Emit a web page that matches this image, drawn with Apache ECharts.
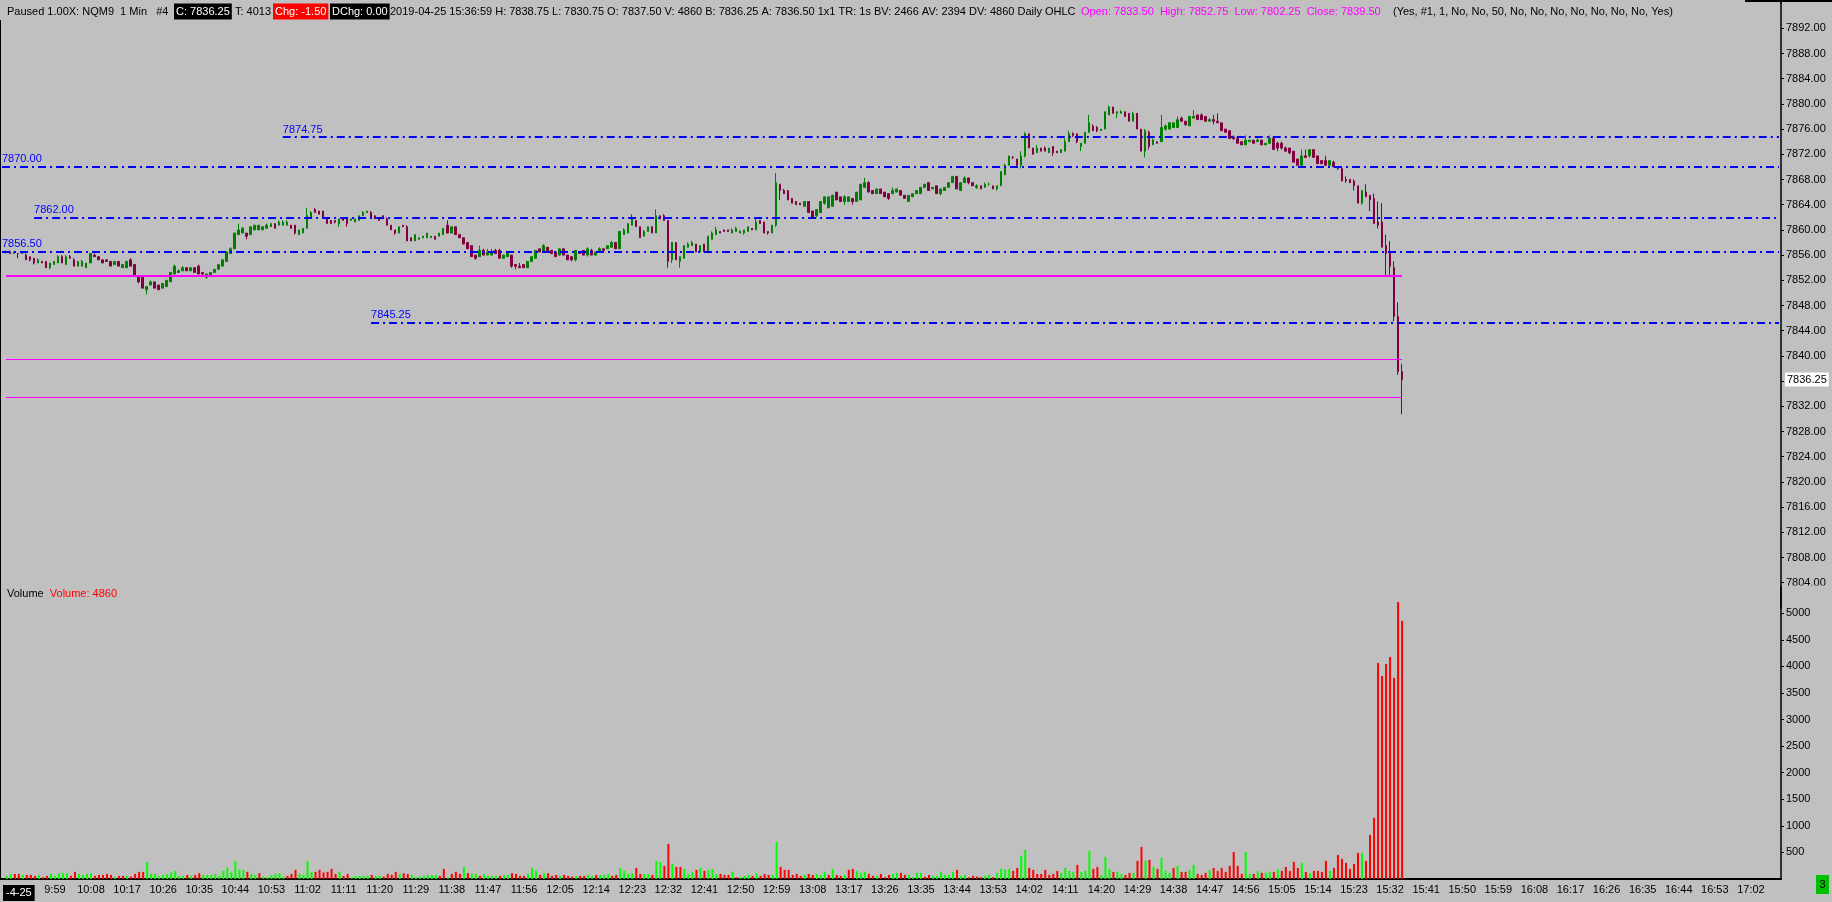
<!DOCTYPE html>
<html>
<head>
<meta charset="utf-8">
<script src="https://cdn.jsdelivr.net/npm/echarts@6.0.0/dist/echarts.min.js"></script>
<style>
html,body{margin:0;padding:0;background:#c0c0c0;overflow:hidden;}
#chart{width:1832px;height:902px;}
</style>
</head>
<body>
<div id="chart"></div>
<script>
// ---------------- DATA ----------------
const AXIS_FIRST = '9:46';
const AXIS_LAST = '17:09';
const FIRST_BAR = '9:47';
const DATE_LABEL = '-4-25';
const DATE_LABEL_AT = '9:50';
const TIME_LABEL_STEP = 9;

// one-minute bars: [open, close, low, high]
const candles = [
[7856.5,7856.5,7856.25,7856.75],[7856.5,7856.25,7856.25,7856.75],[7856.25,7856.5,7856.25,7856.5],
[7856.25,7856.25,7855.5,7856.25],[7856.25,7856.5,7856.25,7856.5],[7856,7855.25,7855.25,7856.25],[7855.75,7855.25,7855,7855.75],
[7855.5,7854.75,7854.5,7855.5],[7854.75,7855.25,7854.75,7855.5],[7855,7854.75,7854.75,7855],[7855,7854,7854,7855],
[7854,7854.75,7853.75,7854.75],[7854.5,7855,7854.5,7855],[7854.75,7855.75,7854.75,7856],[7855.75,7854.75,7854.75,7856],
[7854.5,7855.75,7854.5,7856],[7855.75,7855.5,7855.5,7856],[7855.25,7854.25,7854.25,7855.5],[7854.25,7855,7854.25,7855],
[7854.25,7855,7854.25,7855.25],[7854,7854.75,7854,7854.75],[7854.75,7856.25,7854.75,7856.25],[7856,7855.75,7855.75,7856.25],
[7855.75,7855.25,7855.25,7855.75],[7855.25,7854.75,7854.75,7855.25],[7855.25,7855,7855,7855.25],[7855,7854.25,7854.25,7855],
[7854.5,7855,7854.5,7855],[7855,7854.25,7854.25,7855],[7854,7854.5,7854,7854.5],[7854,7855,7854,7855],
[7855.25,7854.25,7854.25,7855.5],[7854.5,7852.75,7852.75,7854.5],[7852.5,7851.75,7851.5,7852.75],[7852.5,7850.75,7850.75,7852.5],
[7850.5,7851,7849.75,7851],[7851.25,7851.75,7851.25,7852],[7851.75,7850.75,7850.75,7851.75],[7851.25,7850.5,7850.5,7851.25],
[7850.75,7851.5,7850.75,7851.5],[7851,7852,7851,7852],[7851.75,7853.25,7851.75,7853.25],[7853,7854.25,7853,7854.5],
[7853.25,7853.5,7853.25,7853.75],[7853.5,7854,7853.5,7854.25],[7854,7853.5,7853.5,7854],[7853.5,7854,7853.5,7854],
[7854,7853.25,7853.25,7854],[7854.25,7853,7853,7854.5],[7853.25,7853,7852.75,7853.25],[7852.5,7853,7852.25,7853],
[7852.75,7853.25,7852.75,7853.25],[7853.25,7853.75,7853.25,7853.75],[7853.75,7854.5,7853.75,7854.5],[7854.25,7855.25,7854.25,7855.25],
[7855,7856.5,7855,7856.5],[7856.25,7857,7856.25,7857.25],[7857,7859.5,7857,7859.5],[7859.25,7860,7859.25,7861],
[7859.5,7860.25,7859.5,7860.5],[7859.5,7859,7858.5,7859.5],[7859.25,7860.5,7859.25,7860.5],[7860,7860.75,7860,7860.75],
[7860,7860.75,7860,7860.75],[7860,7860.5,7860,7860.5],[7860.25,7860.75,7860.25,7861],[7860.5,7861,7860.5,7861],
[7861,7860.25,7860.25,7861],[7860.75,7861.25,7860.75,7861.5],[7860.75,7861.25,7860.75,7861.5],[7860.75,7861.25,7860.75,7861.5],
[7860.75,7860.25,7860.25,7860.75],[7860.75,7859.5,7859.25,7860.75],[7859.25,7860,7859.25,7860],[7859.5,7860.25,7859.5,7860.25],
[7860.25,7862.25,7860.25,7863.5],[7862,7862.75,7862,7863],[7863.25,7862.75,7862.75,7863.5],[7863,7862.5,7862.5,7863],
[7863,7862,7862,7863],[7861.75,7861,7861,7862],[7861.5,7861,7861,7861.5],[7861.5,7861.25,7861,7861.5],
[7861,7861.75,7860.5,7861.75],[7861.75,7861.5,7861.5,7862],[7861.75,7861,7860.5,7861.75],[7861.5,7861.75,7861.5,7861.75],
[7861.25,7861.75,7861.25,7861.75],[7861.5,7862.25,7861.5,7862.25],[7862.25,7862.75,7862.25,7863],[7862.75,7863,7862.75,7863],
[7862.75,7862,7862,7863],[7862.25,7861.75,7861.75,7862.25],[7862,7861.5,7861.5,7862],[7862.25,7861.75,7861.75,7862.25],
[7861.75,7860.75,7860.75,7862],[7860.75,7860,7860,7860.75],[7860,7859.5,7859.25,7860],[7859.5,7860.5,7859.5,7860.5],
[7860.75,7860.5,7860.5,7860.75],[7860.5,7858.25,7858.25,7860.75],[7858.75,7858.25,7858.25,7858.75],[7858.25,7859.25,7858.25,7859.25],
[7858.5,7858.75,7858.5,7858.75],[7858.75,7859,7858.75,7859],[7858.75,7859.5,7858.75,7859.5],[7858.75,7859,7858.75,7859],
[7859,7858.5,7858.5,7859],[7859,7859.5,7859,7859.5],[7859.25,7860.25,7859.25,7860.25],[7860.75,7859.5,7859.5,7861.5],
[7859.5,7860.5,7859.5,7860.5],[7860.5,7859.25,7859.25,7860.5],[7859.25,7858.75,7858.75,7859.25],[7858.75,7857.75,7857.75,7858.75],
[7858,7857,7857,7858],[7857.5,7855.75,7855.75,7857.5],[7856,7855.5,7855.25,7856],[7855.75,7856.75,7855.75,7857.5],
[7856.75,7856,7856,7857],[7856,7856.5,7856,7857],[7856,7856.5,7856,7857],[7856.75,7856.25,7856.25,7857],
[7856.75,7855.5,7855.5,7857],[7855.5,7856,7855.5,7856],[7855.75,7856.25,7855.75,7856.5],[7856,7854.25,7854,7856],
[7854.5,7854.25,7853.75,7854.5],[7854.25,7854,7854,7854.75],[7854.5,7854,7854,7854.5],[7854,7855,7854,7855],
[7855,7855.75,7855,7855.75],[7855.5,7856.75,7855.5,7856.75],[7857,7856.5,7856.5,7857],[7856.5,7857.5,7856.5,7857.75],
[7857.25,7856.5,7856.5,7857.25],[7856.75,7856.25,7856.25,7856.75],[7856.5,7855.75,7855.75,7856.5],[7856,7857,7856,7857],
[7857,7856,7856,7857],[7856,7855.25,7855.25,7856],[7855.75,7855.25,7855,7855.75],[7855.25,7856.75,7855,7856.75],
[7856.5,7856.25,7856.25,7856.5],[7856.75,7856,7856,7856.75],[7856,7857,7855.75,7857.25],[7856.75,7856,7856,7857],
[7856,7856.5,7856,7856.5],[7856.5,7857,7856.5,7857.25],[7857,7856.75,7856.5,7857],[7857,7857.5,7857,7857.5],
[7857.25,7858,7857.25,7858.25],[7858,7857,7857,7858],[7857,7859.75,7857,7859.75],[7859.25,7860,7859.25,7860.25],
[7859.5,7861,7859.5,7861],[7860.75,7861.75,7860.75,7862.5],[7861.5,7860.5,7860.5,7861.5],[7860.5,7858.75,7858.75,7860.5],
[7859,7859.75,7859,7860],[7859.75,7860.5,7859.75,7860.5],[7860.5,7859.5,7859.5,7860.5],[7859.5,7862.25,7859.5,7863.25],
[7862.25,7861.75,7861.75,7862.25],[7862.25,7861.5,7861.5,7862.5],[7861.5,7855,7854,7861.5],[7855.25,7858,7854.75,7858],
[7858,7855.25,7855.25,7858],[7855,7855.75,7854,7855.75],[7855.5,7857.5,7855.5,7857.5],[7857.25,7857.75,7857.25,7858],
[7857.5,7858,7857.5,7858.25],[7857.75,7856.5,7856.5,7857.75],[7856.5,7857.5,7856.5,7857.5],[7857.75,7856.5,7856.5,7857.75],
[7856.5,7859,7856.5,7859],[7858.5,7859.5,7858.5,7859.75],[7859.25,7860,7859.25,7860.5],[7859.75,7859.5,7859.5,7859.75],
[7860,7859.75,7859.75,7860],[7860,7859.75,7859.75,7860],[7859.5,7860,7859.5,7860.25],[7859.75,7860.25,7859.75,7860.5],
[7859.5,7859.75,7859.5,7860],[7859.5,7860,7859.25,7860],[7859.75,7860.5,7859.75,7860.5],[7860.25,7860,7860,7860.25],
[7860,7861.25,7860,7861.75],[7861.5,7861,7861,7861.5],[7861.25,7859.5,7859.5,7861.25],[7859.75,7859.5,7859.25,7859.75],
[7859.5,7860.75,7859.5,7860.75],[7860.75,7867.5,7860.5,7869],[7867.25,7866.25,7864.75,7867.25],[7866.25,7865.75,7865.75,7866.5],
[7866.25,7864.75,7864.75,7866.25],[7865,7864.25,7864.25,7865],[7864.5,7864,7864,7864.5],[7864.25,7864,7864,7864.25],
[7863.75,7864.5,7863.75,7864.5],[7864.5,7862.75,7862.75,7864.5],[7863,7862,7861.75,7863],[7862.25,7863.25,7862,7863.25],
[7862.75,7864.5,7862.75,7864.5],[7864.25,7865.25,7864,7865.25],[7863.5,7865.25,7863.5,7865.25],[7863.75,7865.5,7863.75,7865.5],
[7866,7864.75,7864.75,7866],[7865.25,7864.5,7864.5,7865.25],[7864.5,7865.25,7864,7865.5],[7864.5,7865.25,7864.5,7865.25],
[7865,7864.5,7864,7865],[7864.5,7866,7864.5,7866],[7864.75,7867.25,7864.75,7867.25],[7866.75,7867.5,7866.75,7868.25],
[7867.5,7866,7866,7867.75],[7866.25,7865.75,7865.75,7866.25],[7865.75,7866.5,7865.75,7866.5],[7866.5,7865.75,7865.75,7866.5],
[7866,7865.25,7865.25,7866],[7865.75,7865,7864.75,7865.75],[7865.75,7866.25,7865.75,7866.75],[7866,7866.5,7866,7866.5],
[7866.25,7865.5,7865.5,7866.25],[7865.5,7865,7865,7865.5],[7864.5,7865.5,7864.5,7865.5],[7865.25,7865.75,7865.25,7865.75],
[7865.75,7866.25,7865.75,7866.25],[7865.75,7866.75,7865.75,7866.75],[7866.75,7867.25,7866.75,7867.25],[7867.5,7866.25,7866.25,7867.5],
[7866.5,7866.75,7866.5,7866.75],[7867,7865.75,7865.75,7867],[7865.75,7866.5,7865.5,7866.5],[7866.25,7866.75,7866.25,7866.75],
[7866.75,7867.5,7866.75,7867.5],[7867.5,7868.5,7867.5,7868.5],[7868.5,7866.5,7866.5,7868.5],[7866.25,7867.5,7866.25,7867.5],
[7867.5,7868.25,7867.5,7868.5],[7868.25,7867.5,7867.25,7868.25],[7867.5,7867,7867,7867.5],[7866.75,7867,7866.5,7867.25],
[7867,7866.5,7866.5,7867],[7866.75,7867.25,7866.75,7867.5],[7867.25,7867.25,7867,7867.5],[7867,7866.5,7866.5,7867],
[7866.5,7867,7866.25,7867],[7867,7869.25,7867,7869.25],[7868.75,7870.25,7868.75,7870.5],[7870.25,7871.75,7870.25,7871.75],
[7871.5,7871.5,7871.25,7871.75],[7871.25,7870.25,7870,7871.25],[7870.25,7871.75,7869.75,7872.5],[7871.75,7875.25,7871.5,7875.5],
[7875.25,7873,7873,7875.25],[7873,7872,7872,7873],[7872.25,7873,7872.25,7873.5],[7873,7872.5,7872.5,7873],
[7873,7872.5,7872.5,7873.25],[7872.25,7873,7872.25,7873],[7873.25,7872.25,7871.75,7873.25],[7872.5,7872.25,7872.25,7872.5],
[7872.25,7872.75,7872.25,7872.75],[7872.5,7874,7872.5,7874.5],[7874,7875.25,7874,7875.75],[7875.25,7875,7874.75,7875.5],
[7875.25,7874,7873.75,7875.25],[7873.25,7873.75,7872.5,7873.75],[7873.75,7875.5,7873.75,7875.5],[7875.5,7877,7875.5,7878.25],
[7876.5,7875.75,7875.75,7876.75],[7876.25,7875.75,7875.5,7876.5],[7875.75,7876,7875.75,7876],[7876,7878.75,7876,7878.75],
[7878.25,7879.5,7878.25,7879.75],[7879.5,7878.5,7878.5,7879.5],[7878.5,7878.75,7877.75,7878.75],[7878.5,7878.75,7878.5,7879],
[7878.75,7878,7878,7878.75],[7878.5,7877.25,7877.25,7878.5],[7877.25,7878.5,7877.25,7878.75],[7878.5,7876,7876,7878.5],
[7876,7872.5,7872.5,7876],[7872.5,7875.75,7871.5,7876],[7875.5,7873.25,7872.75,7875.75],[7873.5,7874.25,7873.5,7874.5],
[7874,7873.75,7873.75,7874],[7874,7876.25,7874,7878.25],[7876,7876.5,7875.75,7876.75],[7876,7877,7876,7877],
[7876.25,7877,7876.25,7877],[7876.25,7877.5,7876.25,7878],[7877.75,7877.25,7877.25,7878],[7877.25,7876.75,7876.5,7877.25],
[7876.5,7878,7876.5,7878],[7877.75,7878,7877.75,7879],[7878.25,7877.5,7877.5,7878.25],[7878.25,7877.5,7877.5,7878.5],
[7878,7877.25,7877.25,7878],[7877.25,7877.5,7877.25,7877.75],[7877.5,7877.25,7876.75,7878.25],[7877.25,7877,7877,7878.5],
[7877,7875.75,7875.75,7877],[7876,7875.5,7875.5,7876],[7875.75,7874.5,7874.5,7875.75],[7874.75,7874.5,7874.25,7875],
[7874.5,7873.75,7873.75,7874.5],[7874,7873.5,7873.5,7874],[7873.5,7874.25,7873.5,7875],[7874,7874.25,7874,7874.25],
[7874.25,7873.75,7873.75,7874.25],[7874,7874.25,7874,7874.75],[7874.25,7873.5,7873.5,7874.25],[7873.5,7873.75,7873.5,7873.75],
[7873.75,7874.5,7873.75,7875],[7874.5,7872.75,7872.75,7874.5],[7873.75,7873,7872.5,7874],
[7873.75,7873,7872.75,7874],[7873,7872.5,7872.5,7873.25],[7873,7872.25,7872,7873],[7872.5,7870.75,7870.75,7872.5],
[7871.25,7870.25,7870.25,7871.25],[7870.25,7871.75,7870.25,7872.75],[7871.75,7871.5,7871.5,7872.75],[7871.75,7872.75,7871.5,7872.75],
[7872.75,7871.5,7871.5,7872.75],[7871.75,7870.5,7870.5,7871.75],[7871,7870.5,7870.5,7871],[7871,7870.25,7870.25,7871.75],
[7870.25,7871,7870.25,7871],[7870.75,7870,7870,7871],[7870,7869.75,7869.5,7870],[7869.75,7867.75,7867.75,7869.75],
[7868,7867.75,7867.5,7868.5],[7868,7867.5,7867.5,7868],[7867.75,7867,7866.25,7868],[7867,7864.25,7864.25,7867],
[7864.25,7866.25,7864,7866.25],[7866,7865.25,7865.25,7867.25],[7865.5,7864.75,7863,7865.5],[7865,7861,7861,7865.75],
[7861.25,7860.75,7860.25,7864.5],[7861.25,7857.25,7857.25,7864.25],[7857.5,7856.25,7852.75,7859.25],[7856.25,7854.25,7852.75,7858.25],
[7854,7846.25,7845.5,7855],[7846.25,7837.5,7837,7848.5],[7837.5,7836.25,7830.75,7838.75]
];

// volume per bar (same bars as candles)
const volumes = [
57,88,94,94,75,75,75,57,75,32, 57,94,57,107,107,107,57,132,94,75,
94,107,57,75,75,94,75,32,57,57, 57,44,94,132,132,320,94,94,57,75,
94,120,151,57,57,75,57,75,107,75, 75,75,94,57,151,213,120,339,170,170,
132,94,75,107,44,32,75,94,107,44, 57,94,170,94,75,339,132,132,170,120,
132,188,94,132,57,94,32,57,57,57, 57,75,57,57,44,94,75,132,94,
107,94,75,32,44,57,75,75,75,57, 188,32,94,132,94,226,107,94,94,57,
94,57,57,57,57,75,75,107,94,57, 57,94,207,151,75,107,107,57,75,57,
75,57,44,57,57,57,75,57,75,75, 75,94,57,75,207,151,94,107,207,94,
94,94,75,339,320,245,659,283,226,226, 188,94,132,170,
213,
151,170,188,94,94,75,75,132,32,32, 57,75,57,107,57,94,75,75,697,226,
170,170,75,94,57,75,94,75,94,75, 132,75,188,75,57,75,170,188,151,113,
132,94,57,57,94,32,75,94,113,113, 75,75,32,113,113,44,75,57,57,132,
75,75,132,170,57,75,32,57,44,32, 57,75,32,113,188,170,188,151,207,433,
546,207,170,94,94,170,75,94,151,113, 207,151,132,264,132,151,527,188,226,75,
414,188,132,132,94,75,113,113,339,603, 339,358,226,188,396,151,113,207,245,132,
132,170,264,94,75,113,170,207,151,207, 132,245,508,245,94,508,94,94,151,113,
113,132,132,188,151,226,151,320,207,302, 132,113,151,151,132,339,151,207,452,377,
302,188,283,490,490,339,829,1149,4067,3822, 4048,4180,3785,5216,4860
];
// volume bar colour: g = up bar, r = down bar
const volumeDir =
'ggrrgrrrgr'+'rgggggrrgg'+'ggrrrrrgrr'+'grrrrggggg'+'gggggrgrrg'+'gggggggggg'+'rggrgggggg'+'rrrggggrrr'+'rrrgrrgggg'+'grggrrrrg'+
'rrgggggggr'+'rgrrrgrggr'+'ggggrggrrr'+'rgggrgrrrg'+'rrrgrrggrg'+'ggrrggggrr'+'ggrggrrgrr'+'gggr'+
'g'+
'rgggrrrgrg'+'ggrgrrrggr'+'rrrrrgrrgg'+'grgrrgrrgg'+'grrgrrrggr'+'rggggrrggg'+'gggrggrrrr'+'ggrggggrrg'+
'grrrrrrrrg'+'gggrgggrrg'+'ggrggrrgrr'+'grgrgggrgr'+'rggrrrgrrr'+'rrrrrggrgr'+'ggrgrrrrrg'+'rgrrrrgrrr'+'rrrrgrrrrr'+'rrrrr';

const priceTicks = [7804,7808,7812,7816,7820,7824,7828,7832,7836,7840,7844,7848,7852,7856,7860,7864,7868,7872,7876,7880,7884,7888,7892];
const volumeTicks = [500,1000,1500,2000,2500,3000,3500,4000,4500,5000];

// drawn price levels (blue dash-dot) : value and the bar where each starts
const levelValues = [7874.75, 7870.00, 7862.00, 7856.50, 7845.25];
const levelStarts = ['10:56', '9:46', '9:54', '9:46', '11:18'];
// prior-day OHLC lines (magenta)
const dailyNames  = ['High', 'Close', 'Open'];
const dailyValues = [7852.75, 7839.50, 7833.50];

// header text segments: [text, style]
const headerParts = [
  ['Paused 1.00X: NQM9  1 Min   #4', 'n'],
  ['C: 7836.25', 'k'],
  ['T: 4013', 'n'],
  ['Chg: -1.50', 'r'],
  ['DChg: 0.00', 'k'],
  ['2019-04-25 15:36:59 H: 7838.75 L: 7830.75 O: 7837.50 V: 4860 B: 7836.25 A: 7836.50 1x1 TR: 1s BV: 2466 AV: 2394 DV: 4860 Daily OHLC', 'n'],
  ['Open: 7833.50  High: 7852.75  Low: 7802.25  Close: 7839.50', 'm'],
  ['(Yes, #1, 1, No, No, 50, No, No, No, No, No, No, No, Yes)', 'n']
];

// ---------------- CHART ----------------
const FONT = '"Liberation Sans", Arial, sans-serif';
const F11 = '11px ' + FONT;
const UP = '#008000', DOWN = '#800040';
// layout: left edge (px) of each header segment
const headerX = [7, 174, 235, 273, 330, 390, 1081, 1393];
const headerStyle = {
  n: { fill: '#000' },
  k: { fill: '#fff', backgroundColor: '#000', padding: [3, 2, 2, 2] },
  r: { fill: '#fff', backgroundColor: '#ff0000', padding: [3, 2, 2, 2] },
  m: { fill: '#ff00ff' }
};

function toMin(t){ const p = t.split(':'); return (+p[0])*60 + (+p[1]); }
function fmt(m){ return Math.floor(m/60) + ':' + String(m%60).padStart(2,'0'); }
const categories = [];
for (let m = toMin(AXIS_FIRST); m <= toMin(AXIS_LAST); m++) categories.push(fmt(m));
const firstIdx = categories.indexOf(FIRST_BAR);
const lastIdx = firstIdx + candles.length - 1;
const dateIdx = categories.indexOf(DATE_LABEL_AT);

const chart = echarts.init(document.getElementById('chart'), null, {renderer: 'canvas'});

const levelMarks = levelValues.map((v, k) => [
  { coord: [levelStarts[k], v],
    lineStyle: { color: '#0000ff', width: 2, type: [8, 4, 2, 4] },
    label: { show: true, position: 'insideStartTop', formatter: v.toFixed(2), color: '#0000ff',
             fontSize: 11, fontFamily: FONT, distance: [0, 2] } },
  { coord: [AXIS_LAST, v] }
]);
const dailyMarks = dailyValues.map((v, k) => [
  { coord: [FIRST_BAR, v], lineStyle: { color: '#ff00ff', width: k === 0 ? 2 : 1, type: 'solid' }, label: { show: false } },
  { coord: [categories[lastIdx], v] }
]);

const option = {
  backgroundColor: '#c0c0c0',
  animation: false,
  textStyle: { fontFamily: FONT },
  grid: [
    { left: 0, top: 3.1, width: 1781, height: 604.8 },
    { left: 0, top: 586.8, width: 1781, height: 292.1 }
  ],
  xAxis: [
    { type: 'category', gridIndex: 0, data: categories, boundaryGap: true, show: false },
    { type: 'category', gridIndex: 1, data: categories, boundaryGap: true,
      axisLine: { show: true, onZero: false, lineStyle: { color: '#000', width: 2 } },
      axisTick: { show: false },
      splitLine: { show: false },
      axisLabel: {
        interval: (i) => i >= dateIdx && (i - dateIdx) % TIME_LABEL_STEP === 0,
        formatter: (v, i) => i === dateIdx ? '{d|' + DATE_LABEL + '}' : v,
        color: '#000', fontSize: 11, fontFamily: FONT, margin: 6,
        rich: { d: { color: '#fff', backgroundColor: '#000', padding: [3, 3, 2, 3], fontSize: 11, fontFamily: FONT } }
      } }
  ],
  yAxis: [
    { type: 'value', gridIndex: 0, position: 'right', min: 7800, max: 7896, interval: 4,
      axisLine: { show: true, lineStyle: { color: '#000', width: 1.5 } },
      axisTick: { show: true, length: 3, lineStyle: { color: '#000' }, customValues: priceTicks },
      axisLabel: { customValues: priceTicks, color: '#000', fontSize: 11, fontFamily: FONT, margin: 5,
                   formatter: (v) => priceTicks.indexOf(v) >= 0 ? v.toFixed(2) : '' },
      splitLine: { show: false } },
    { type: 'value', gridIndex: 1, position: 'right', min: 0, max: 5500, interval: 500,
      axisLine: { show: true, lineStyle: { color: '#000', width: 1.5 } },
      axisTick: { show: true, length: 3, lineStyle: { color: '#000' }, customValues: volumeTicks },
      axisLabel: { customValues: volumeTicks, color: '#000', fontSize: 11, fontFamily: FONT, margin: 5,
                   formatter: (v) => volumeTicks.indexOf(v) >= 0 ? String(v) : '' },
      splitLine: { show: false } }
  ],
  series: [
    { type: 'candlestick', name: 'NQM9', xAxisIndex: 0, yAxisIndex: 0, barWidth: 2,
      data: candles.map((c, k) => [firstIdx + k, c[0], c[1], c[2], c[3]]),
      encode: { x: 0, y: [1, 2, 3, 4] },
      itemStyle: { color: UP, color0: DOWN, borderColor: UP, borderColor0: DOWN, borderWidth: 1 },
      markLine: { symbol: ['none', 'none'], silent: true, animation: false, data: levelMarks.concat(dailyMarks) } },
    { type: 'bar', name: 'Volume', xAxisIndex: 1, yAxisIndex: 1, barWidth: 2,
      data: volumes.map((v, k) => ({ value: [firstIdx + k, v],
        itemStyle: { color: volumeDir[k] === 'g' ? '#00ff00' : '#ff0000' } })) }
  ]
};
chart.setOption(option);

const lastClose = candles[candles.length - 1][1];
const lastVol = volumes[volumes.length - 1];
const yLast = chart.convertToPixel({ yAxisIndex: 0 }, lastClose);

const headerGraphics = headerParts.map((p, k) => ({
  type: 'text', id: 'h' + k, x: headerX[k], y: 11.5, z: 50,
  style: Object.assign({ text: p[0], font: F11, verticalAlign: 'middle', align: 'left' }, headerStyle[p[1]])
}));

chart.setOption({
  graphic: headerGraphics.concat([
    { type: 'text', id: 'vol', x: 7, y: 594, z: 50,
      style: { text: '{a|Volume}  {b|Volume: ' + lastVol + '}', verticalAlign: 'middle', font: F11,
               rich: { a: { fill: '#000', font: F11 }, b: { fill: '#ff0000', font: F11 } } } },
    { type: 'rect', id: 'clip', z: 40, shape: { x: 1783, y: 585.5, width: 49, height: 12 }, style: { fill: '#c0c0c0' } },
    { type: 'text', id: 'last', x: 1785, y: yLast, z: 60,
      style: { text: lastClose.toFixed(2), fill: '#000', backgroundColor: '#fff', padding: [2, 2, 1, 2],
               font: F11, verticalAlign: 'middle' } },
    { type: 'line', id: 'left', z: 30, shape: { x1: 0.5, y1: 20, x2: 0.5, y2: 880 }, style: { stroke: '#000', lineWidth: 1 } },
    { type: 'line', id: 'topR', z: 30, shape: { x1: 1781, y1: 0, x2: 1781, y2: 4 }, style: { stroke: '#000', lineWidth: 1.5 } },
    { type: 'line', id: 'topLine', z: 30, shape: { x1: 1745, y1: 1, x2: 1832, y2: 1 }, style: { stroke: '#000', lineWidth: 2 } },
    { type: 'group', id: 'badge', x: 1816, y: 875, z: 50, children: [
      { type: 'rect', shape: { x: 0, y: 0, width: 13, height: 19 }, style: { fill: '#00c000' } },
      { type: 'text', x: 6.5, y: 9.5, style: { text: '3', fill: '#000', font: F11, align: 'center', verticalAlign: 'middle' } }
    ] }
  ])
});
</script>
</body>
</html>
